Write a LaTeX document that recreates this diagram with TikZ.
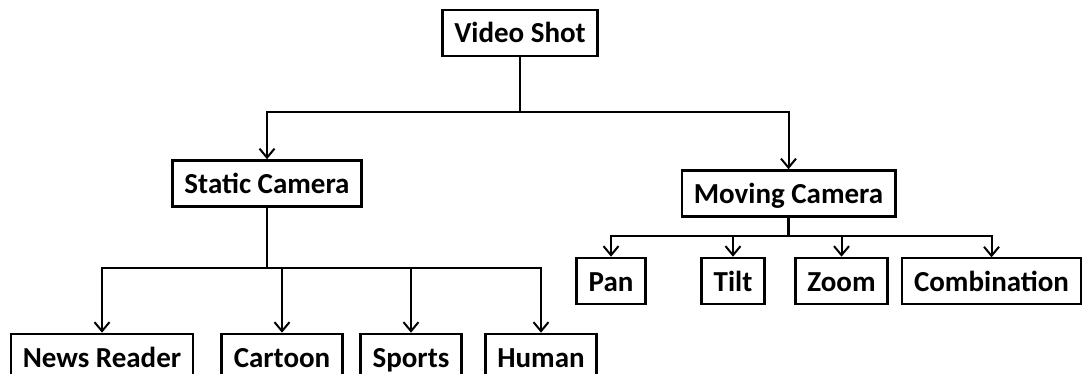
\documentclass[tikz,border=0pt]{standalone}
\usepackage{fontspec}
\setmainfont{Carlito}
\usetikzlibrary{arrows.meta}

\tikzset{
  box/.style={draw, line width=2.6pt, inner xsep=12pt, minimum height=46pt,
    text height=20pt, text depth=0pt,
    font=\fontsize{29}{33}\selectfont\bfseries},
  tip/.style={line width=2pt, -{Straight Barb[length=9pt,width=15pt,line width=2pt]}},
  link/.style={line width=2.4pt}
}

\begin{document}
\begin{tikzpicture}[x=1pt,y=-1pt]
    \useasboundingbox (0,0) rectangle (1085,374);
    \clip (0,0) rectangle (1085,374);
    % levels
    \node[box] (shot) at (520,33) {Video Shot};
    \node[box] (static) at (267,183.5) {Static Camera};
    \node[box] (moving) at (788.5,193.5) {Moving Camera};
    \node[box] (news) at (102,357) {News Reader};
    \node[box] (cartoon) at (282,357) {Cartoon};
    \node[box] (sports) at (411,357) {Sports};
    \node[box] (human) at (541,357) {Human};
    \node[box] (pan) at (611,281) {Pan};
    \node[box] (tilt) at (733,281) {Tilt};
    \node[box] (zoom) at (841.5,281) {Zoom};
    \node[box, line width=1.3pt] (comb) at (991.5,281) {Combination};
    % branch points
    \coordinate (top) at (520,112);
    \coordinate (left) at (267,268);
    \coordinate (right) at (788.5,236);
    \draw[link] (shot) -- (top);
    \foreach \n in {static,moving} \draw[tip] (top) -| (\n);
    \draw[link] (static) -- (left);
    \foreach \n in {news,cartoon,sports,human} \draw[tip] (left) -| (\n);
    \draw[link] (moving) -- (right);
    \foreach \n in {pan,tilt,zoom,comb} \draw[tip] (right) -| (\n);
\end{tikzpicture}
\end{document}
